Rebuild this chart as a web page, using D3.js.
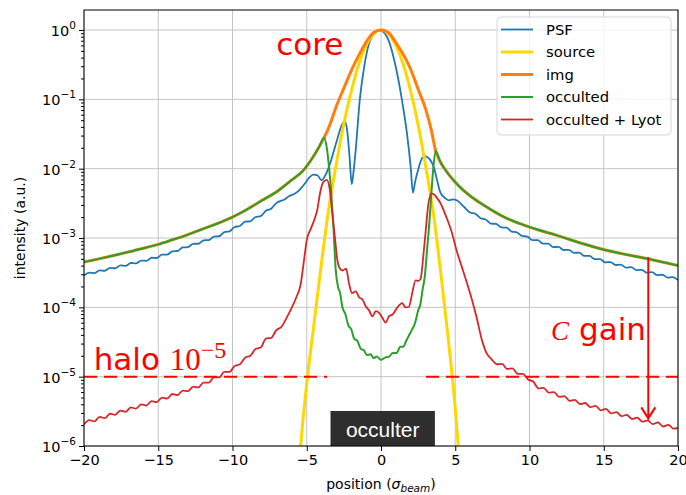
<!DOCTYPE html>
<html>
<head>
<meta charset="utf-8">
<script src="https://cdn.jsdelivr.net/npm/d3@7"></script>
<style>
  body { margin: 0; background: #fff; }
  text { font-family: "DejaVu Sans", sans-serif; }
</style>
</head>
<body>
<div id="chart"></div>
<script>
// values: [position, intensity]
const xTicks = [-20, -15, -10, -5, 0, 5, 10, 15, 20]
const yDecades = [1e-6, 1e-5, 1e-4, 1e-3, 1e-2, 1e-1, 1]
const yExponents = ['−6', '−5', '−4', '−3', '−2', '−1', '0']

const seriesNames = ['PSF', 'source', 'img', 'occulted', 'occulted + Lyot']

const psfWingL = [
  [-20.00, 2.87e-4], [-19.65, 3.16e-4], [-19.30, 3.11e-4], [-18.95, 3.42e-4], [-18.60, 3.37e-4],
  [-18.25, 3.71e-4], [-17.90, 3.66e-4], [-17.55, 4.02e-4], [-17.20, 3.96e-4], [-16.85, 4.36e-4],
  [-16.50, 4.30e-4], [-16.15, 4.73e-4], [-15.80, 4.68e-4], [-15.45, 5.19e-4], [-15.10, 5.15e-4],
  [-14.75, 5.75e-4], [-14.40, 5.75e-4], [-14.05, 6.43e-4], [-13.70, 6.49e-4], [-13.35, 7.31e-4],
  [-13.00, 7.38e-4], [-12.65, 8.25e-4], [-12.30, 8.26e-4], [-11.95, 9.25e-4], [-11.60, 9.33e-4],
  [-11.25, 1.05e-3], [-10.90, 1.06e-3], [-10.55, 1.22e-3], [-10.20, 1.25e-3], [-9.85, 1.44e-3],
  [-9.50, 1.49e-3], [-9.15, 1.72e-3], [-8.80, 1.74e-3], [-8.45, 2.01e-3], [-8.10, 2.07e-3],
  [-7.75, 2.47e-3], [-7.40, 2.65e-3], [-7.05, 3.19e-3]
]
const psfCore = [
  [-6.5, 3.6e-3], [-6.2, 4.0e-3], [-5.85, 4.3e-3], [-5.5, 4.9e-3], [-5.15, 6.0e-3], [-4.84, 7.4e-3],
  [-4.55, 8.2e-3], [-4.3, 8.1e-3], [-4.0, 6.8e-3], [-3.75, 8.0e-3], [-3.5, 1.07e-2], [-2.96, 2.6e-2],
  [-2.65, 4.2e-2], [-2.45, 4.8e-2], [-2.28, 3.6e-2], [-2.12, 1.5e-2], [-1.97, 6.0e-3], [-1.85, 9e-3],
  [-1.7, 1.9e-2], [-1.43, 9.8e-2], [-1.14, 0.29], [-0.69, 0.74], [-0.1, 1.0], [0.4, 0.8],
  [1.0, 0.29], [1.41, 9.8e-2], [1.75, 3.2e-2], [2.0, 1.05e-2], [2.15, 4.5e-3], [2.3, 6.5e-3],
  [2.55, 1.05e-2], [2.8, 1.45e-2], [3.0, 1.5e-2], [3.3, 1.35e-2], [3.56, 1.05e-2], [3.8, 6.5e-3],
  [4.0, 4.5e-3], [4.3, 3.8e-3], [4.57, 3.5e-3], [4.85, 3.6e-3], [5.1, 3.5e-3], [5.6, 2.8e-3]
]
const psfWingR = [
  [6.00, 2.33e-3], [6.35, 2.24e-3], [6.70, 1.93e-3], [7.05, 1.85e-3], [7.40, 1.61e-3],
  [7.75, 1.60e-3], [8.10, 1.42e-3], [8.45, 1.41e-3], [8.80, 1.24e-3], [9.15, 1.21e-3],
  [9.50, 1.07e-3], [9.85, 1.05e-3], [10.20, 9.33e-4], [10.55, 9.31e-4], [10.90, 8.32e-4],
  [11.25, 8.30e-4], [11.60, 7.41e-4], [11.95, 7.43e-4], [12.30, 6.71e-4], [12.65, 6.76e-4],
  [13.00, 6.11e-4], [13.35, 6.15e-4], [13.70, 5.51e-4], [14.05, 5.52e-4], [14.40, 4.95e-4],
  [14.75, 4.95e-4], [15.10, 4.45e-4], [15.45, 4.50e-4], [15.80, 4.08e-4], [16.15, 4.13e-4],
  [16.50, 3.74e-4], [16.85, 3.79e-4], [17.20, 3.44e-4], [17.55, 3.48e-4], [17.90, 3.16e-4],
  [18.25, 3.21e-4], [18.60, 2.91e-4], [18.95, 2.95e-4], [19.30, 2.69e-4], [19.65, 2.72e-4],
  [20.00, 2.47e-4]
]

const source = [
  [-6.0, 1.5e-8], [-5.5, 6e-7], [-5.0, 8e-6], [-4.5, 6e-5], [-4.0, 4.5e-4], [-3.5, 2.8e-3],
  [-3.0, 1.2e-2], [-2.5, 4.5e-2], [-2.0, 0.13], [-1.5, 0.32], [-1.0, 0.6], [-0.5, 0.88], [0, 1],
  [0.5, 0.88], [1.0, 0.6], [1.5, 0.32], [2.0, 0.13], [2.5, 4.3e-2], [3.0, 1.1e-2], [3.5, 2.5e-3],
  [4.0, 3.5e-4], [4.5, 4e-5], [5.0, 3.5e-6], [5.5, 1.5e-7], [6.0, 5e-9]
]

// halo wings shared by img and occulted
const haloWingL = [
  [-20, 4.5e-4], [-19, 5.0e-4], [-18, 5.6e-4], [-17, 6.3e-4], [-16, 7.1e-4], [-15, 8.1e-4],
  [-14, 9.5e-4], [-13, 1.12e-3], [-12, 1.35e-3], [-11, 1.62e-3], [-10, 2.0e-3], [-9, 2.6e-3],
  [-8, 3.5e-3], [-7, 4.7e-3], [-6, 6.9e-3], [-5.3, 9.1e-3], [-4.64, 1.4e-2], [-4.2, 2.0e-2],
  [-3.83, 2.8e-2]
]
const haloWingR = [
  [3.68, 1.8e-2], [4.0, 1.25e-2], [4.35, 9.5e-3], [5.25, 5.6e-3], [6.1, 3.9e-3], [7, 2.9e-3],
  [8.4, 1.95e-3], [9.95, 1.45e-3], [11.8, 1.1e-3], [13.5, 8.4e-4], [15.1, 6.7e-4], [17.8, 5.1e-4],
  [20, 4.0e-4]
]
const imgCore = [
  [-3.5, 0.04], [-3.0, 0.08], [-2.5, 0.145], [-2.0, 0.26], [-1.5, 0.43], [-1.0, 0.67], [-0.5, 0.92],
  [0, 1], [0.5, 0.92], [1.0, 0.66], [1.7, 0.37], [2.0, 0.27], [2.5, 0.14], [3.03, 0.07], [3.4, 0.035]
]
const occultedCore = [
  [-3.65, 2.0e-2], [-3.5, 1.05e-2], [-3.35, 4.5e-3], [-3.2, 1.4e-3], [-3.05, 3.5e-4], [-2.9, 2.0e-4],
  [-2.75, 1.6e-4], [-2.6, 1.0e-4], [-2.4, 8.0e-5], [-2.2, 5.5e-5], [-2.0, 4.8e-5], [-1.8, 3.5e-5],
  [-1.6, 3.3e-5], [-1.35, 2.5e-5], [-1.15, 2.4e-5], [-0.95, 2.05e-5], [-0.7, 2.1e-5], [-0.5, 1.85e-5],
  [-0.3, 1.95e-5], [0, 1.75e-5], [0.3, 1.9e-5], [0.55, 1.95e-5], [0.8, 2.2e-5], [1.05, 2.2e-5],
  [1.3, 2.7e-5], [1.5, 2.7e-5], [1.7, 3.3e-5], [1.9, 4.0e-5], [2.1, 4.8e-5], [2.3, 6.0e-5],
  [2.5, 9.0e-5], [2.65, 1.1e-4], [2.8, 1.8e-4], [2.95, 2.8e-4], [3.1, 6.7e-4], [3.25, 1.6e-3],
  [3.36, 3.5e-3], [3.5, 9.0e-3]
]

const lyotWingL = [
  [-20.00, 2.04e-6], [-19.65, 2.36e-6], [-19.30, 2.27e-6], [-18.95, 2.63e-6], [-18.60, 2.52e-6],
  [-18.25, 2.92e-6], [-17.90, 2.82e-6], [-17.55, 3.24e-6], [-17.20, 3.11e-6], [-16.85, 3.60e-6],
  [-16.50, 3.47e-6], [-16.15, 3.98e-6], [-15.80, 3.84e-6], [-15.45, 4.44e-6], [-15.10, 4.30e-6],
  [-14.75, 5.0e-6], [-14.40, 4.84e-6], [-14.05, 5.62e-6], [-13.70, 5.43e-6], [-13.35, 6.31e-6],
  [-13.00, 6.17e-6], [-12.65, 7.19e-6], [-12.30, 7.0e-6], [-11.95, 8.22e-6], [-11.60, 8.2e-6],
  [-11.25, 9.8e-6], [-10.90, 9.77e-6], [-10.55, 1.17e-5], [-10.20, 1.17e-5], [-9.85, 1.43e-5],
  [-9.50, 1.51e-5], [-9.15, 1.88e-5], [-8.80, 2.0e-5], [-8.45, 2.5e-5], [-8.10, 2.63e-5],
  [-7.75, 3.55e-5], [-7.40, 3.63e-5], [-7.05, 4.68e-5], [-6.70, 5.25e-5]
]
const lyotCore = [
  [-6.35, 7.1e-5], [-6.0, 1.0e-4], [-5.7, 1.4e-4], [-5.4, 2.2e-4], [-5.2, 4.5e-4], [-5.0, 9.3e-4],
  [-4.7, 1.4e-3], [-4.5, 1.8e-3], [-4.3, 2.5e-3], [-4.1, 4.5e-3], [-3.9, 6.3e-3], [-3.65, 6.9e-3],
  [-3.45, 5.0e-3], [-3.3, 2.5e-3], [-3.1, 1.0e-3], [-2.95, 5.0e-4], [-2.82, 3.8e-4], [-2.6, 3.4e-4],
  [-2.35, 3.6e-4], [-2.15, 2.2e-4], [-1.95, 1.6e-4], [-1.7, 1.7e-4], [-1.48, 1.4e-4], [-1.25, 1.3e-4],
  [-1.01, 1.02e-4], [-0.8, 9.0e-5], [-0.58, 7.4e-5], [-0.35, 8.8e-5], [-0.13, 8.3e-5], [0.1, 7.0e-5],
  [0.31, 6.0e-5], [0.55, 7.5e-5], [0.76, 7.8e-5], [1.1, 1.0e-4], [1.43, 1.15e-4], [1.65, 1.0e-4],
  [1.88, 1.02e-4], [2.1, 1.6e-4], [2.33, 2.45e-4], [2.5, 2.4e-4], [2.67, 2.6e-4], [2.85, 5.5e-4],
  [3.0, 1.2e-3], [3.2, 3.2e-3], [3.4, 4.4e-3], [3.6, 4.2e-3], [3.8, 3.7e-3], [4.0, 3.2e-3],
  [4.4, 2.0e-3], [4.77, 1.2e-3], [5.1, 6.5e-4], [5.45, 3.8e-4], [5.8, 2.2e-4], [6.12, 1.3e-4],
  [6.45, 7e-5], [6.79, 3.4e-5], [7.1, 2.2e-5]
]
const lyotWingR = [
  [7.45, 1.78e-5], [7.80, 1.51e-5], [8.15, 1.53e-5], [8.50, 1.29e-5], [8.85, 1.32e-5],
  [9.20, 1.10e-5], [9.55, 1.10e-5], [9.90, 9.1e-6], [10.25, 8.5e-6], [10.60, 6.8e-6],
  [10.95, 6.9e-6], [11.30, 5.9e-6], [11.65, 6.0e-6], [12.00, 5.1e-6], [12.35, 5.25e-6],
  [12.70, 4.47e-6], [13.05, 4.62e-6], [13.40, 4.03e-6], [13.75, 4.17e-6], [14.10, 3.63e-6],
  [14.45, 3.8e-6], [14.80, 3.27e-6], [15.15, 3.43e-6], [15.50, 2.95e-6], [15.85, 3.09e-6],
  [16.20, 2.69e-6], [16.55, 2.82e-6], [16.90, 2.45e-6], [17.25, 2.57e-6], [17.60, 2.24e-6],
  [17.95, 2.34e-6], [18.30, 2.07e-6], [18.65, 2.19e-6], [19.00, 1.91e-6], [19.35, 2.02e-6],
  [19.70, 1.78e-6], [20.00, 1.82e-6]
]

// annotations
const haloLevel = 1e-5
const haloSpans = [[-20, -3.63], [3.03, 20]]
const gainArrow = { x: 18, from: 5.3e-4, to: 2.5e-6 }
const occulter = { x0: -3.4, x1: 3.63, top: 3.2e-6 }

const psf = [...psfWingL, ...psfCore, ...psfWingR]
const img = [...haloWingL, ...imgCore, ...haloWingR]
const occulted = [...haloWingL, ...occultedCore, ...haloWingR]
const lyot = [...lyotWingL, ...lyotCore, ...lyotWingR]

const series = [
  { name: seriesNames[0], values: psf, color: '#1f77b4', width: 1.8 },
  { name: seriesNames[1], values: source, color: '#ffd700', width: 3 },
  { name: seriesNames[2], values: img, color: '#ff7f0e', width: 3 },
  { name: seriesNames[3], values: occulted, color: '#2ca02c', width: 2 },
  { name: seriesNames[4], values: lyot, color: '#d62728', width: 1.8 }
]

const width = 686
const height = 495
const [pL, pT, pR, pB] = [84, 10, 678, 446]

const x = d3.scaleLinear().domain([-20, 20]).range([pL, pR])
const y = d3.scaleLog().domain([1e-6, Math.pow(10, 20 / 69.33)]).range([pB, pT])

const svg = d3.select('#chart')
  .append('svg')
  .attr('width', width)
  .attr('height', height)

svg.append('rect').attr('width', width).attr('height', height).attr('fill', '#fff')

svg.append('clipPath').attr('id', 'plot')
  .append('rect')
  .attr('x', pL).attr('y', pT)
  .attr('width', pR - pL).attr('height', pB - pT)

// grid
const grid = svg.append('g').attr('stroke', '#c4c4c4').attr('stroke-width', 1)
grid.selectAll('.vx').data(xTicks).join('line')
  .attr('x1', d => x(d)).attr('x2', d => x(d))
  .attr('y1', pT).attr('y2', pB)
grid.selectAll('.hy').data(yDecades).join('line')
  .attr('y1', d => y(d)).attr('y2', d => y(d))
  .attr('x1', pL).attr('x2', pR)

// curves
const line = d3.line()
  .x(d => x(d[0]))
  .y(d => y(d[1]))
  .curve(d3.curveMonotoneX)

const plot = svg.append('g').attr('clip-path', 'url(#plot)')
plot.selectAll('path').data(series).join('path')
  .attr('fill', 'none')
  .attr('stroke', d => d.color)
  .attr('stroke-width', d => d.width)
  .attr('stroke-linejoin', 'round')
  .attr('d', d => line(d.values))

// halo dashes
plot.selectAll('.halo').data(haloSpans).join('line')
  .attr('x1', d => x(d[0])).attr('x2', d => x(d[1]))
  .attr('y1', y(haloLevel)).attr('y2', y(haloLevel))
  .attr('stroke', '#ff0000')
  .attr('stroke-width', 2)
  .attr('stroke-dasharray', '13,7')

// contrast gain arrow
const ax = x(gainArrow.x)
const ay = y(gainArrow.to)
svg.append('line')
  .attr('x1', ax).attr('x2', ax)
  .attr('y1', y(gainArrow.from)).attr('y2', ay)
  .attr('stroke', '#ff0000').attr('stroke-width', 2)
svg.append('path')
  .attr('d', `M${ax - 7},${ay - 11}L${ax},${ay}L${ax + 7},${ay - 11}`)
  .attr('fill', 'none').attr('stroke', '#ff0000').attr('stroke-width', 2)

// occulter box
svg.append('rect')
  .attr('x', x(occulter.x0)).attr('y', y(occulter.top))
  .attr('width', x(occulter.x1) - x(occulter.x0))
  .attr('height', pB - y(occulter.top))
  .attr('fill', '#2e2e2e')
svg.append('text')
  .attr('x', (x(occulter.x0) + x(occulter.x1)) / 2)
  .attr('y', 437)
  .attr('text-anchor', 'middle')
  .attr('fill', '#fff')
  .style('font-family', '"Liberation Sans", Arial, sans-serif')
  .style('font-size', '21px')
  .text('occulter')

// red labels
const red = svg.append('g').attr('fill', '#ff0000')
  .style('font-family', '"Liberation Sans", Arial, sans-serif')
  .style('font-size', '31px')
red.append('text').attr('x', x(-7.05)).attr('y', 55).text('core')
const halo = red.append('text').attr('x', x(-19.35)).attr('y', 370)
halo.append('tspan').text('halo ')
halo.append('tspan').style('font-family', '"Liberation Serif", serif').text('10')
halo.append('tspan').attr('dy', -12)
  .style('font-family', '"Liberation Serif", serif').style('font-size', '24px').text('−5')
const gain = red.append('text').attr('x', x(11.45)).attr('y', 340)
gain.append('tspan').style('font-family', '"Liberation Serif", serif')
  .style('font-style', 'italic').style('font-size', '27px').text('C')
gain.append('tspan').attr('dx', 10).text('gain')

// frame and axes
svg.append('rect')
  .attr('x', pL).attr('y', pT)
  .attr('width', pR - pL).attr('height', pB - pT)
  .attr('fill', 'none').attr('stroke', '#000').attr('stroke-width', 1)

const xAxis = svg.append('g')
  .attr('transform', `translate(0,${pB})`)
  .call(d3.axisBottom(x).tickValues(xTicks).tickSize(5).tickPadding(4))
xAxis.select('.domain').remove()
xAxis.selectAll('text').style('font-size', '14.5px').attr('fill', '#000')

const minor = y.ticks().filter(v => !yDecades.some(d => Math.abs(d - v) / d < 1e-6))
const yMinor = svg.append('g')
  .attr('transform', `translate(${pL},0)`)
  .call(d3.axisLeft(y).tickValues(minor).tickSize(3).tickFormat(''))
yMinor.select('.domain').remove()

const yAxis = svg.append('g')
  .attr('transform', `translate(${pL},0)`)
  .call(d3.axisLeft(y).tickValues(yDecades).tickSize(5).tickFormat(''))
yAxis.select('.domain').remove()

const yLabels = svg.append('g').style('font-size', '14.5px').attr('fill', '#000')
yDecades.forEach((d, i) => {
  const t = yLabels.append('text')
    .attr('x', pL - 8).attr('y', y(d) + 6)
    .attr('text-anchor', 'end')
  t.append('tspan').text('10')
  t.append('tspan').attr('dy', -7).style('font-size', '10.5px').text(yExponents[i])
})

// axis titles
const xTitle = svg.append('text')
  .attr('x', (pL + pR) / 2).attr('y', 489)
  .attr('text-anchor', 'middle')
  .style('font-size', '14px')
xTitle.append('tspan').text('position (')
xTitle.append('tspan').style('font-style', 'italic').text('σ')
xTitle.append('tspan').attr('dy', 3).style('font-style', 'italic').style('font-size', '10.5px').text('beam')
xTitle.append('tspan').attr('dy', -3).text(')')

svg.append('text')
  .attr('transform', `translate(25,${(pT + pB) / 2}) rotate(-90)`)
  .attr('text-anchor', 'middle')
  .style('font-size', '14px')
  .text('intensity (a.u.)')

// legend
const legend = svg.append('g')
legend.append('rect')
  .attr('x', 497).attr('y', 17).attr('width', 174).attr('height', 118)
  .attr('rx', 4)
  .attr('fill', '#fff').attr('fill-opacity', 0.8)
  .attr('stroke', '#d6d6d6')
const rows = legend.selectAll('.row').data(series).join('g')
  .attr('transform', (d, i) => `translate(0,${29.5 + i * 22.5})`)
rows.append('line')
  .attr('x1', 501).attr('x2', 533)
  .attr('stroke', d => d.color)
  .attr('stroke-width', d => d.width)
rows.append('text')
  .attr('x', 546).attr('y', 5)
  .style('font-size', '14.8px')
  .text(d => d.name)
</script>
</body>
</html>
